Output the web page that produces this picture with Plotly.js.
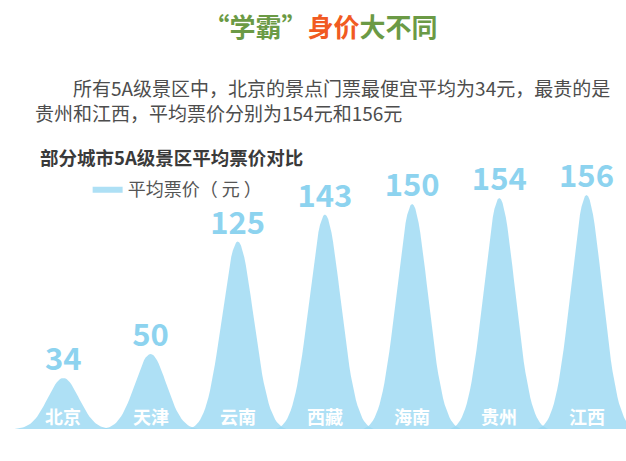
<!DOCTYPE html>
<html>
<head>
<meta charset="utf-8">
<script src="https://cdn.plot.ly/plotly-3.0.1.min.js"></script>
<style>
  html, body { margin: 0; padding: 0; background: #ffffff; }
  #chart { width: 626px; height: 461px; }
</style>
</head>
<body>
<div id="chart"></div>
<script>
// ---- data ----
var cities = ['北京', '天津', '云南', '西藏', '海南', '贵州', '江西'];
var prices = [34, 50, 125, 143, 150, 154, 156];
var seriesName = '平均票价（ 元 ）';
var chartTitle = '<span style="color:#6b9a45">“学霸”</span><span style="color:#f15a22">身价</span><span style="color:#6b9a45">大不同</span>';
var introText = '　　所有5A级景区中，北京的景点门票最便宜平均为34元，最贵的是<br>贵州和江西，平均票价分别为154元和156元';
var chartSubtitle = '部分城市5A级景区平均票价对比';

// ---- peak outline (shape of each mark, scaled by its value) ----
var HALF = 0.56, SIG = 0.18, STEPS = 60;
function g(t) { return Math.exp(-t * t / (2 * SIG * SIG)); }
var gEdge = g(HALF);
function peakShape(t) { return Math.max(0, (g(t) - gEdge) / (1 - gEdge)); }

var FONT = 'Noto Sans CJK SC, Noto Sans, sans-serif';
var traces = [];
prices.forEach(function (v, i) {
  var xs = [], ys = [];
  for (var k = 0; k <= STEPS; k++) {
    var t = -HALF + 2 * HALF * k / STEPS;
    xs.push(i + t);
    ys.push(v * peakShape(t));
  }
  traces.push({
    type: 'scatter', mode: 'lines', x: xs, y: ys,
    fill: 'toself', fillcolor: 'rgba(154,216,243,0.8)',
    line: { width: 0, color: 'rgba(154,216,243,0.8)' },
    name: seriesName, legendgroup: 'p', showlegend: i === 0,
    hoverinfo: 'skip'
  });
});
traces.push({
  type: 'scatter', mode: 'text',
  x: cities.map(function (c, i) { return i; }), y: prices,
  text: prices.map(String), textposition: 'top center',
  textfont: { family: FONT, size: 31, color: '#8dd3ef', weight: 700 },
  cliponaxis: false, showlegend: false, hoverinfo: 'skip'
});

var annotations = [
  { xref: 'paper', yref: 'paper', x: 0.0358, y: 1.18, xanchor: 'left', yanchor: 'middle',
    align: 'left', showarrow: false, text: introText,
    font: { family: FONT, size: 19, color: '#4d4d4d' } },
  { xref: 'paper', yref: 'paper', x: 0.044, y: 0.975, xanchor: 'left', yanchor: 'middle',
    showarrow: false, text: chartSubtitle,
    font: { family: FONT, size: 18.5, color: '#3a3a3a', weight: 700 } }
];
cities.forEach(function (c, i) {
  annotations.push({ xref: 'x', yref: 'y', x: i, y: 0, yanchor: 'middle', yshift: 13,
    showarrow: false, text: c, font: { family: FONT, size: 18, color: '#ffffff', weight: 700 } });
});

var layout = {
  width: 626, height: 461,
  margin: { l: 11, r: 0, t: 150, b: 32, autoexpand: false },
  paper_bgcolor: '#ffffff', plot_bgcolor: '#ffffff',
  title: { text: chartTitle, xref: 'container', yref: 'container', x: 0.512, y: 0.939,
    xanchor: 'center', yanchor: 'middle', font: { family: FONT, size: 26, weight: 700 } },
  xaxis: { range: [-0.6, 6.453], showgrid: false, zeroline: false, showline: false,
    showticklabels: false, ticks: '', fixedrange: true, automargin: false },
  yaxis: { range: [0, 186], showgrid: false, zeroline: false, showline: false,
    showticklabels: false, ticks: '', fixedrange: true, automargin: false },
  showlegend: true,
  legend: { xref: 'container', yref: 'container', x: 0.14, y: 0.63, xanchor: 'left', yanchor: 'top',
    itemwidth: 30, bgcolor: 'rgba(0,0,0,0)', font: { family: FONT, size: 18, color: '#555555' } },
  annotations: annotations,
  hovermode: false
};

Plotly.newPlot('chart', traces, layout, { displayModeBar: false, staticPlot: true });
</script>
</body>
</html>
